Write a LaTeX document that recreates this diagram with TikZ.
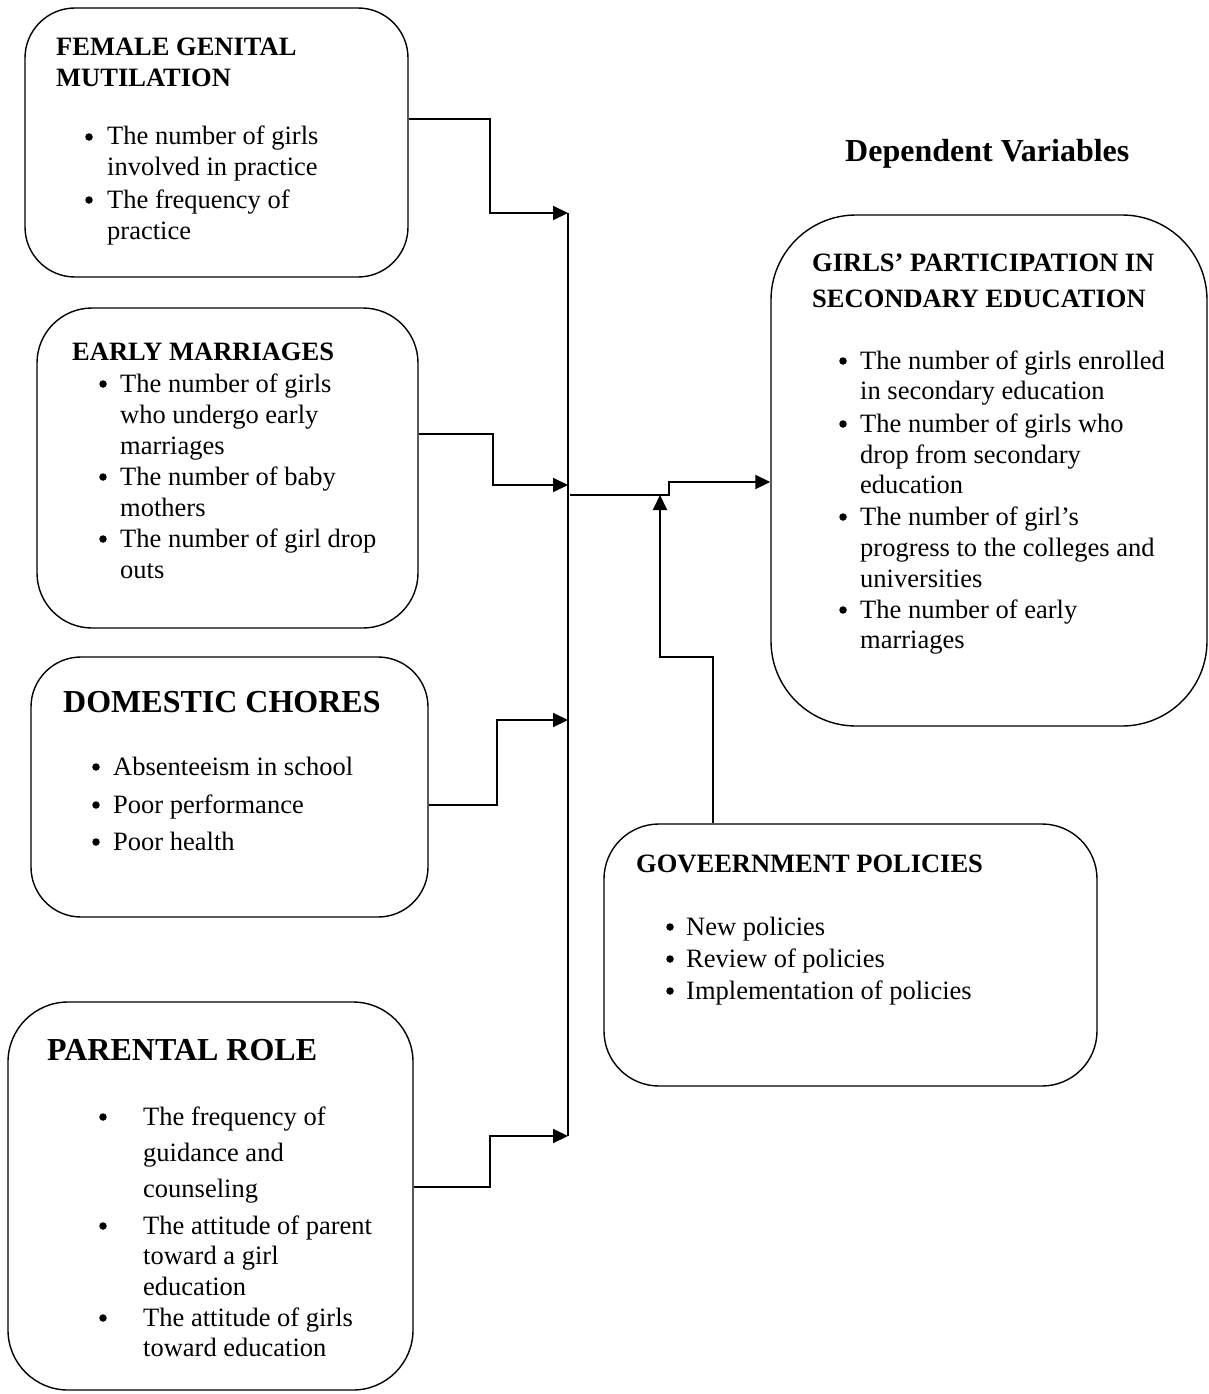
\documentclass[tikz,border=0pt]{standalone}
\usepackage{fontspec}
\setmainfont{Liberation Serif}
\usetikzlibrary{arrows.meta}
\begin{document}
\begin{tikzpicture}[x=1pt,y=-1pt,
  box/.style={draw, line width=1.4pt, rounded corners=#1, inner sep=0pt},
  txt/.style={anchor=base west, inner sep=0pt, font=\fontsize{26.5}{30}\selectfont},
  hd/.style={anchor=base west, inner sep=0pt, font=\fontsize{26.5}{30}\selectfont\bfseries},
  bighd/.style={anchor=base west, inner sep=0pt, font=\fontsize{32}{36}\selectfont\bfseries},
  bul/.style={circle, fill, inner sep=0pt, minimum size=7.5pt, yshift=8pt},
  conn/.style={line width=2pt, -{Triangle[length=15pt,width=14pt]}},
]
\useasboundingbox (0,0) rectangle (1209,1394);

% boxes
\node[box=50pt, minimum width=383pt, minimum height=269pt] (fgm) at (216.5,142.5) {};
\node[box=55pt, minimum width=381pt, minimum height=320pt] (em) at (227.5,468) {};
\node[box=50pt, minimum width=397pt, minimum height=260pt] (dc) at (229.5,787) {};
\node[box=60pt, minimum width=405pt, minimum height=388pt] (pr) at (210.5,1196) {};
\node[box=85pt, minimum width=436pt, minimum height=511pt] (girls) at (989,470.5) {};
\node[box=55pt, minimum width=493pt, minimum height=262pt] (gov) at (850.5,955) {};

% title
\node[bighd] (dv) at (845,161) {Dependent Variables};

% FGM
\node[hd] (fgm1) at (56,56) {FEMALE GENITAL};
\node[hd] (fgm2) at (56,87) {MUTILATION};
\node[bul] (fgmb1) at (89,145) {};
\node[txt] (fgm3) at (107,145) {The number of girls};
\node[txt] (fgm4) at (107,175) {involved in practice};
\node[bul] (fgmb2) at (89,208) {};
\node[txt] (fgm5) at (107,208) {The frequency of};
\node[txt] (fgm6) at (107,239) {practice};

% EM
\node[hd] (em1) at (72,360) {EARLY MARRIAGES};
\node[bul] (emb1) at (103,392) {};
\node[txt] (em2) at (120,392) {The number of girls};
\node[txt] (em3) at (120,423) {who undergo early};
\node[txt] (em4) at (120,454) {marriages};
\node[bul] (emb2) at (103,485) {};
\node[txt] (em5) at (120,485) {The number of baby};
\node[txt] (em6) at (120,516) {mothers};
\node[bul] (emb3) at (103,547) {};
\node[txt] (em7) at (120,547) {The number of girl drop};
\node[txt] (em8) at (120,578) {outs};

% DC
\node[bighd] (dc1) at (63,712) {DOMESTIC CHORES};
\node[bul] (dcb1) at (96,775) {};
\node[txt] (dc2) at (113,775) {Absenteeism in school};
\node[bul] (dcb2) at (96,813) {};
\node[txt] (dc3) at (113,813) {Poor performance};
\node[bul] (dcb3) at (96,850) {};
\node[txt] (dc4) at (113,850) {Poor health};

% PR
\node[bighd] (pr1) at (47,1060) {PARENTAL ROLE};
\node[bul] (prb1) at (103,1125) {};
\node[txt] (pr2) at (143,1125) {The frequency of};
\node[txt] (pr3) at (143,1161) {guidance and};
\node[txt] (pr4) at (143,1197) {counseling};
\node[bul] (prb2) at (103,1234) {};
\node[txt] (pr5) at (143,1234) {The attitude of parent};
\node[txt] (pr6) at (143,1264) {toward a girl};
\node[txt] (pr7) at (143,1295) {education};
\node[bul] (prb3) at (103,1326) {};
\node[txt] (pr8) at (143,1326) {The attitude of girls};
\node[txt] (pr9) at (143,1356) {toward education};

% GIRLS
\node[hd] (g1) at (812,271) {GIRLS’ PARTICIPATION IN};
\node[hd] (g2) at (812,307) {SECONDARY EDUCATION};
\node[bul] (gb1) at (843,369) {};
\node[txt] (g3) at (860,369) {The number of girls enrolled};
\node[txt] (g4) at (860,399) {in secondary education};
\node[bul] (gb2) at (843,432) {};
\node[txt] (g5) at (860,432) {The number of girls who};
\node[txt] (g6) at (860,463) {drop from secondary};
\node[txt] (g7) at (860,493) {education};
\node[bul] (gb3) at (843,525) {};
\node[txt] (g8) at (860,525) {The number of girl’s};
\node[txt] (g9) at (860,556) {progress to the colleges and};
\node[txt] (g10) at (860,587) {universities};
\node[bul] (gb4) at (843,618) {};
\node[txt] (g11) at (860,618) {The number of early};
\node[txt] (g12) at (860,648) {marriages};

% GOV
\node[hd] (gv1) at (636,872) {GOVEERNMENT POLICIES};
\node[bul] (gvb1) at (670,935) {};
\node[txt] (gv2) at (686,935) {New policies};
\node[bul] (gvb2) at (670,967) {};
\node[txt] (gv3) at (686,967) {Review of policies};
\node[bul] (gvb3) at (670,999) {};
\node[txt] (gv4) at (686,999) {Implementation of policies};

% connectors
\coordinate (barA) at (568,213);
\coordinate (barB) at (568,485);
\coordinate (barC) at (568,720);
\coordinate (barD) at (568,1136);
\coordinate (outS) at (570,495);
\coordinate (merge) at (660,495);

\draw[line width=1.2pt] (barA) -- (barD);
\draw[conn] (fgm.east |- 0,119) -| (490,213) -- (barA);
\draw[conn] (em.east |- 0,434) -| (493,485) -- (barB);
\draw[conn] (dc.east |- 0,805) -| (497,720) -- (barC);
\draw[conn] (pr.east |- 0,1187) -| (490,1136) -- (barD);
\draw[conn] (outS) -- (669,495) -- (669,482) -- (girls.west |- 0,482);
\draw[conn] (gov.north -| 713,0) -- (713,657) -| (merge);
\end{tikzpicture}
\end{document}
